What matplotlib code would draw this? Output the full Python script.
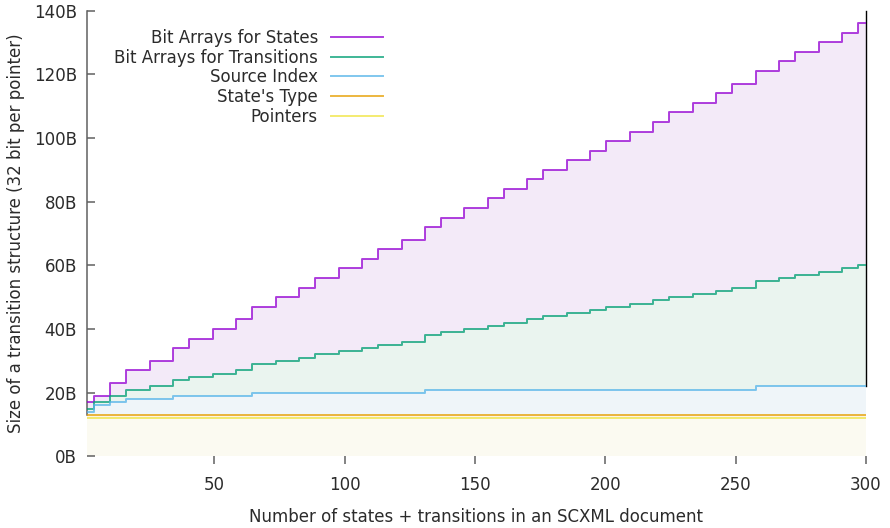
import numpy as np
import matplotlib
matplotlib.use('Agg')
import matplotlib.pyplot as plt
from matplotlib.lines import Line2D

# step change points: x where the size changes, and the new stacked size in bytes
n_max = 300
pointers_top = 12
type_top = 13

index_x = [1, 4.02, 10.06, 16.10, 34.22, 64.42, 130.87, 257.72]
index_y = [14, 16, 17, 18, 19, 20, 21, 22]

trans_x = [1, 4.02, 10.06, 16.10, 25.16, 34.22, 40.26, 49.32, 58.38, 64.42,
           73.48, 82.55, 88.59, 97.65, 106.71, 112.75, 121.81, 130.87, 136.91,
           145.97, 155.03, 161.07, 170.13, 176.17, 185.23, 194.29, 200.33,
           209.39, 218.46, 224.50, 233.56, 242.62, 248.66, 257.72, 266.78,
           272.82, 281.88, 290.94, 296.98]
trans_y = [15, 17, 19, 21, 22, 24, 25, 26, 27, 29, 30, 31, 32, 33, 34, 35, 36,
           38, 39, 40, 41, 42, 43, 44, 45, 46, 47, 48, 49, 50, 51, 52, 53, 55,
           56, 57, 58, 59, 60]

states_x = trans_x
states_y = [17, 19, 23, 27, 30, 34, 37, 40, 43, 47, 50, 53, 56, 59, 62, 65, 68,
            72, 75, 78, 81, 84, 87, 90, 93, 96, 99, 102, 105, 108, 111, 114,
            117, 121, 124, 127, 130, 133, 136]

labels = ['Bit Arrays for States', 'Bit Arrays for Transitions',
          'Source Index', "State's Type", 'Pointers']
line_colors = ['#9400d3', '#009e73', '#56b4e9', '#e69f00', '#f0e442']
fill_colors = ['#f3eaf8', '#eaf4ef', '#eff5f9', '#fcf4e2', '#fbfaf1']

text_color = '#2b2b2b'
axis_color = '#606060'
fs = 12


def on_grid(xs, ys, grid):
    # value of a post-step series at every grid point
    idx = np.searchsorted(xs, grid, side='right') - 1
    return np.asarray(ys, dtype=float)[idx]


grid = np.unique(np.concatenate([index_x, trans_x, [n_max]]))
index_v = on_grid(index_x, index_y, grid)
trans_v = on_grid(trans_x, trans_y, grid)
states_v = on_grid(states_x, states_y, grid)
pointers_v = np.full(len(grid), pointers_top, dtype=float)
type_v = np.full(len(grid), type_top, dtype=float)

plt.rcParams['font.family'] = 'DejaVu Sans'
plt.rcParams['font.size'] = fs

fig = plt.figure(figsize=(8.9, 5.28), dpi=100)
ax = fig.add_axes([0.0973, 0.1356, 0.8757, 0.8445])

tops = [states_v, trans_v, index_v, type_v, pointers_v]
bottoms = [trans_v, index_v, type_v, pointers_v, np.zeros(len(grid))]
for top, bot, fc in zip(tops, bottoms, fill_colors):
    ax.fill_between(grid, bot, top, step='post', color=fc, lw=0, zorder=1)
for top, lc in zip(tops, line_colors):
    ax.step(grid, top, where='post', color=lc, lw=1.4, alpha=0.75, zorder=4)

ax.set_xlim(1, n_max)
ax.set_ylim(0, 140)

ax.set_xticks([50, 100, 150, 200, 250, 300])
ax.set_yticks(range(0, 141, 20))
ax.set_yticklabels(['{}B'.format(v) for v in range(0, 141, 20)])

ax.spines['top'].set_visible(False)
ax.spines['bottom'].set_visible(False)
ax.spines['left'].set_bounds(type_top, 140)
ax.spines['left'].set_color(axis_color)
ax.spines['left'].set_linewidth(1.1)
ax.spines['right'].set_bounds(22, 140)
ax.spines['right'].set_color('black')
ax.spines['right'].set_linewidth(1.0)

ax.tick_params(axis='y', direction='in', length=6, width=1.1, color=axis_color,
               pad=7, labelcolor=text_color, labelsize=fs)
ax.tick_params(axis='x', direction='out', length=6, width=1.1, color=axis_color,
               pad=8, labelcolor=text_color, labelsize=fs)

ax.set_xlabel('Number of states + transitions in an SCXML document',
              color=text_color, fontsize=fs, labelpad=10)
ax.set_ylabel('Size of a transition structure (32 bit per pointer)',
              color=text_color, fontsize=fs, labelpad=6)

handles = [Line2D([], [], color=c, lw=1.4, alpha=0.75) for c in line_colors]
leg = ax.legend(handles, labels, loc='upper right',
                bbox_to_anchor=(383 / 890, 1 - 29 / 528),
                bbox_transform=fig.transFigure, frameon=False,
                markerfirst=False, alignment='right', borderpad=0,
                borderaxespad=0, handlelength=3.1, handletextpad=0.8,
                labelspacing=0.1, fontsize=fs)
for t in leg.get_texts():
    t.set_color(text_color)

fig.savefig('out.png', dpi=100)
